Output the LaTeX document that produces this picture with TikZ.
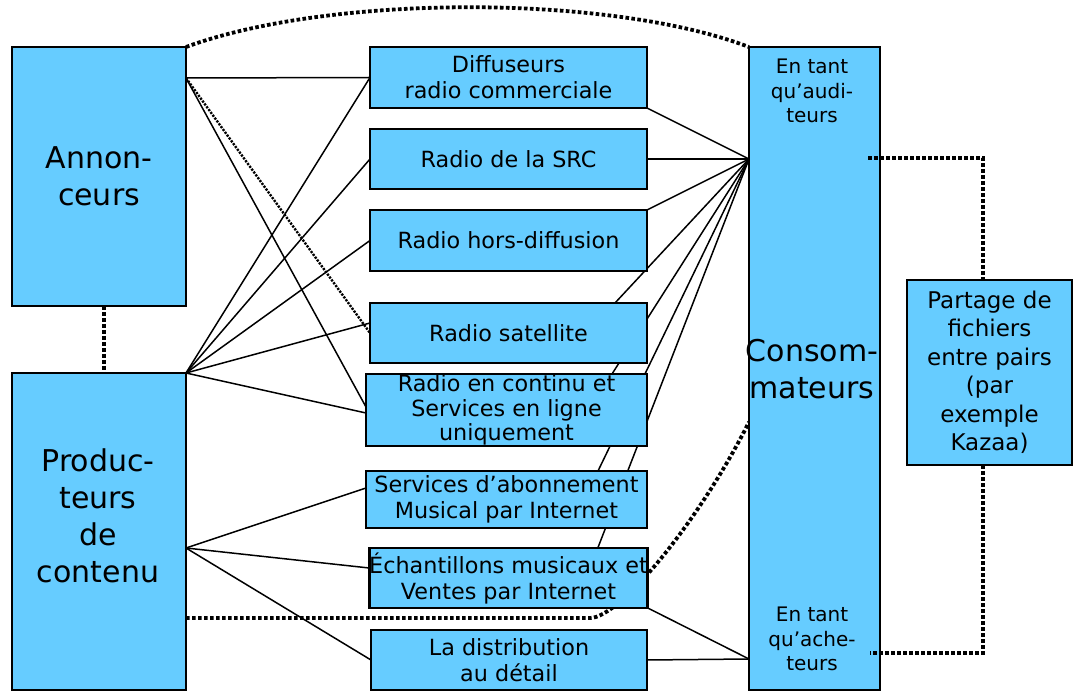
\documentclass[tikz,border=0pt]{standalone}
\usepackage{fontspec}
\setmainfont{DejaVu Sans}
\usetikzlibrary{calc}
\definecolor{boxblue}{HTML}{66CCFF}
\pgfdeclarelayer{bg}
\pgfsetlayers{bg,main}
\begin{document}
\begin{tikzpicture}[x=1pt,y=-1pt,
  box/.style={draw=black, line width=2.6pt, fill=boxblue, inner sep=0pt, outer sep=0pt, align=center},
  conn/.style={line width=1.5pt},
  dots/.style={line width=3.8pt, dash pattern=on 3.6pt off 2.4pt},
  fdots/.style={line width=2.4pt, dash pattern=on 2.2pt off 1.3pt},
  big/.style={font=\fontsize{30}{37}\selectfont, align=center},
  mid/.style={font=\fontsize{22.3}{26}\selectfont},
  side/.style={font=\fontsize{20}{24.5}\selectfont, align=center},
  ]
\useasboundingbox (0,0) rectangle (1074,692);

% left boxes
\node[box, big, minimum width=174pt, minimum height=259pt] (ann) at (99,176.5) {Annon-\\ceurs};
\node[box, minimum width=174pt, minimum height=317pt] (prod) at (99,531.5) {};
\node[big] (prodtxt) at (98,516) {Produc-\\teurs\\de\\contenu};

% middle boxes
\node[box, mid, minimum width=277pt, minimum height=61pt] (diff) at (508.5,77.5) {Diffuseurs\\radio commerciale};
\node[box, mid, minimum width=277pt, minimum height=60pt] (src) at (508.5,159) {Radio de la SRC};
\node[box, mid, minimum width=277pt, minimum height=61pt] (hors) at (508.5,240.5) {Radio hors-diffusion};
\node[box, mid, minimum width=277pt, minimum height=60pt] (sat) at (508.5,333) {Radio satellite};
\node[box, font=\fontsize{22.3}{24.5}\selectfont, minimum width=281pt, minimum height=72pt] (cont) at (506.5,410) {Radio en continu et\\Services en ligne\\uniquement};
\node[box, mid, minimum width=281pt, minimum height=57pt] (abo) at (506.5,499.5) {Services d’abonnement\\Musical par Internet};
\node[box, mid, minimum width=277pt, minimum height=60pt] (ech) at (508.5,578) {Échantillons musicaux et\\Ventes par Internet};
\node[box, mid, minimum width=276pt, minimum height=60pt] (dist) at (509,660) {La distribution\\au détail};

% consumers
\node[box, minimum width=131pt, minimum height=643pt] (cons) at (814.5,368.5) {};
\node[side] (aud) at (812,91) {En tant\\qu’audi-\\teurs};
\node[big] (constxt) at (812,369) {Consom-\\mateurs};
\node[side] (ach) at (812,639) {En tant\\qu’ache-\\teurs};

% peer to peer
\node[box, font=\fontsize{23}{28.5}\selectfont, minimum width=165pt, minimum height=185pt] (p2p) at (989.5,372.5) {Partage de\\fichiers\\entre pairs\\(par\\exemple\\Kazaa)};

% connection points
\coordinate (A) at ([yshift=-31pt]ann.north east);
\coordinate (P1) at (prod.north east);
\coordinate (P2) at ([yshift=-175pt]prod.north east);
\coordinate (Pd) at ([yshift=-245pt]prod.north east);
\coordinate (C1) at ([yshift=-112pt]cons.north west);
\coordinate (C2) at ([yshift=-612pt]cons.north west);
\coordinate (Cd) at ([yshift=-375pt]cons.north west);
\coordinate (bend) at (590,618);
\coordinate (Bt) at ([xshift=-12pt,yshift=-111pt]cons.north east);
\coordinate (Bb) at ([xshift=-10pt,yshift=-606pt]cons.north east);

\begin{pgfonlayer}{bg}
  % from advertisers
  \draw[conn] (A) -- (diff.west);
  \draw[conn] (A) -- ([yshift=3pt]cont.west);
  \draw[fdots] (A) -- (sat.west);
  % from producers (top)
  \draw[conn] (P1) -- (diff.west);
  \draw[conn] (P1) -- (src.west);
  \draw[conn] (P1) -- (hors.west);
  \draw[conn] (P1) -- ([yshift=10pt]sat.west);
  \draw[conn] (P1) -- ([yshift=-3pt]cont.west);
  % from producers (middle)
  \draw[conn] (P2) -- ([yshift=11.5pt]abo.west);
  \draw[conn] (P2) -- ([yshift=10pt]ech.west);
  \draw[conn] (P2) -- (dist.west);
  % to consumers as listeners
  \draw[conn] (C1) -- (diff.south east);
  \draw[conn] (C1) -- (src.east);
  \draw[conn] (C1) -- (hors.north east);
  \draw[conn] (C1) -- ([xshift=-32pt]sat.north east);
  \draw[conn] (C1) -- ([xshift=-35pt]cont.north east);
  \draw[conn] (C1) -- ([xshift=-49pt]abo.north east);
  \draw[conn] (C1) -- ([xshift=-50pt]ech.north east);
  % to consumers as buyers
  \draw[conn] (C2) -- (ech.south east);
  \draw[conn] (C2) -- (dist.east);
  % dotted links
  \draw[dots] (ann.north east) .. controls (330,-6) and (610,-6) .. (cons.north west);
  \draw[dots] ([xshift=5pt]ann.south) -- ([xshift=5pt]prod.north);
  \draw[dots] (Pd) -- (bend) .. controls (620,618) and (700,520) .. (Cd);
\end{pgfonlayer}

\draw[dots] (Bt) -| ([xshift=-6.5pt]p2p.north);
\draw[dots] ([xshift=-6.5pt]p2p.south) |- (Bb);
\end{tikzpicture}
\end{document}
